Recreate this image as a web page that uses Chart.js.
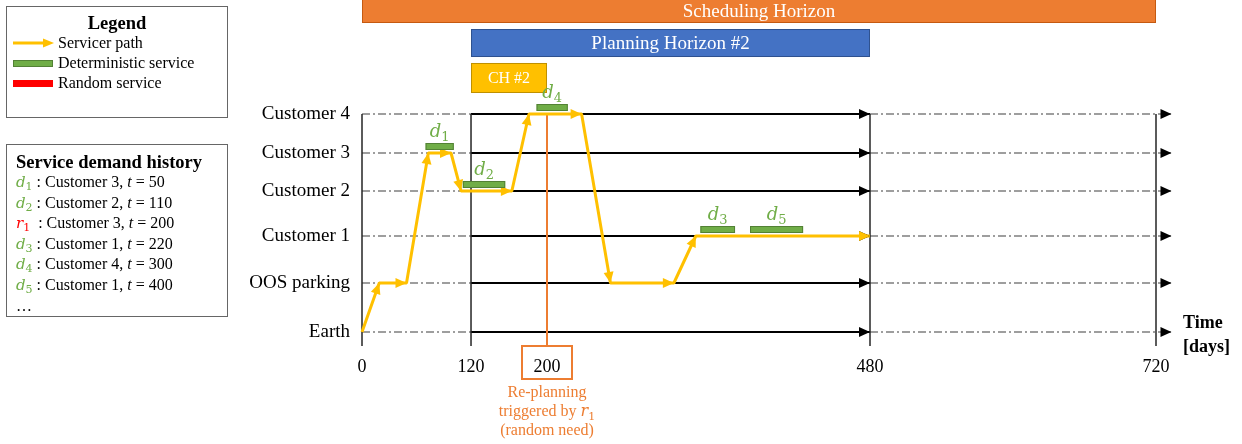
<!DOCTYPE html>
<html>
<head>
<meta charset="utf-8">
<script src="https://cdn.jsdelivr.net/npm/chart.js@4/dist/chart.umd.min.js"></script>
<style>
    body { margin: 0; background: #fff; font-family: "Liberation Serif", serif; color: #000; }
    #wrap { position: relative; width: 1242px; height: 444px; overflow: hidden; }
    canvas { position: absolute; left: 0; top: 0; }
    .box { position: absolute; border: 1.5px solid #666; box-sizing: border-box; }
    .t { position: absolute; font-size: 16px; line-height: 20px; white-space: nowrap; }
    .sw { position: absolute; width: 38px; height: 5px; }
    .m { font-family: "DejaVu Serif", serif; font-style: italic; font-size: 15px; }
    .m sub { font-style: normal; font-size: 11px; vertical-align: -3px; line-height: 0; }
    .g { color: #70AD47; }
    .r { color: #FF0000; }
</style>
</head>
<body>
<div id="wrap">
    <canvas id="chart" width="1242" height="444"></canvas>

    <!-- legend box -->
    <div class="box" style="left:6px;top:6px;width:222px;height:112px"></div>
    <div class="t" style="left:6px;top:12px;width:222px;text-align:center;font-weight:bold;font-size:18.5px;line-height:22px">Legend</div>
    <svg style="position:absolute;left:13px;top:38px" width="42" height="10">
        <line x1="0" y1="5" x2="32" y2="5" stroke="#FFC000" stroke-width="3"/>
        <polygon points="30,0.5 41,5 30,9.5" fill="#FFC000"/>
    </svg>
    <div class="t" style="left:58px;top:33px">Servicer path</div>
    <div class="sw" style="left:13px;top:60px;background:#70AD47;border:1px solid #538135"></div>
    <div class="t" style="left:58px;top:53px">Deterministic service</div>
    <div class="sw" style="left:13px;top:80px;background:#FF0000;border:1px solid #FF0000"></div>
    <div class="t" style="left:58px;top:73px">Random service</div>

    <!-- service demand history box -->
    <div class="box" style="left:6px;top:144px;width:222px;height:173px"></div>
    <div class="t" style="left:16px;top:151px;font-weight:bold;font-size:18.5px;line-height:22px">Service demand history</div>
    <div class="t" style="left:16px;top:172px;line-height:19.6px">
        <span class="m g">d<sub>1</sub></span> : Customer 3, <i>t</i> = 50<br>
        <span class="m g">d<sub>2</sub></span> : Customer 2, <i>t</i> = 110<br>
        <span class="m r">r<sub>1</sub></span> &nbsp;: Customer 3, <i>t</i> = 200<br>
        <span class="m g">d<sub>3</sub></span> : Customer 1, <i>t</i> = 220<br>
        <span class="m g">d<sub>4</sub></span> : Customer 4, <i>t</i> = 300<br>
        <span class="m g">d<sub>5</sub></span> : Customer 1, <i>t</i> = 400<br>
        …
    </div>

    <div class="t" style="left:1183px;top:310px;font-weight:bold;font-size:18px;line-height:24px">Time<br>[days]</div>
</div>

<script>
// --- DATA ---
const levels = ['Earth', 'OOS parking', 'Customer 1', 'Customer 2', 'Customer 3', 'Customer 4'];
const timeTicks = [0, 120, 200, 480, 720];
const boundaryDays = [0, 120, 480, 720];

// servicer path: day and level index of every vertex
const pathDays   = [0, 19, 49, 73, 98, 109, 163, 181, 230, 255, 310, 329, 480];
const pathLevels = [0, 1, 1, 4, 4, 3, 3, 5, 5, 1, 1, 2, 2];

// deterministic services
const serviceIds    = [1, 2, 3, 4, 5];
const serviceLevels = [4, 3, 2, 5, 2];
const serviceStart  = [70, 111, 333, 189, 376];
const serviceEnd    = [101, 156, 363, 218, 422];

// horizons shown as bars on top
const horizonNames = ['Scheduling Horizon', 'Planning Horizon #2', 'CH #2'];
const horizonStart = [0, 120, 120];
const horizonEnd   = [720, 480, 200];

const replanDay = 200;
const replanText = ['Re-planning', 'triggered by ', '(random need)'];

// --- PIECEWISE SCALE (schematic axis spacing) ---
const yBottom = -0.3;
const scaleBreaks = {
    x: [[0, 0], [120, 0.1373], [200, 0.2330], [480, 0.6398], [720, 1]],
    y: [[yBottom, 0], [0, 0.0405], [1, 0.1821], [2, 0.3179], [3, 0.4480], [4, 0.5578],
        [5, 0.6705], [6, 0.7746], [7, 0.8757], [8, 0.974], [8.4, 1]]
};

const LinearBase = Chart.LinearScale || Chart.registry.getScale('linear');

class PiecewiseScale extends LinearBase {
    getPixelForValue(value) {
        const br = scaleBreaks[this.id];
        let i = 1;
        while (i < br.length - 1 && value > br[i][0]) i++;
        const [v0, f0] = br[i - 1], [v1, f1] = br[i];
        return this.getPixelForDecimal(f0 + (value - v0) * (f1 - f0) / (v1 - v0));
    }
    getValueForPixel(pixel) {
        const br = scaleBreaks[this.id];
        const d = this.getDecimalForPixel(pixel);
        let i = 1;
        while (i < br.length - 1 && d > br[i][1]) i++;
        const [v0, f0] = br[i - 1], [v1, f1] = br[i];
        return v0 + (d - f0) * (v1 - v0) / (f1 - f0);
    }
}
PiecewiseScale.id = 'piecewise';
PiecewiseScale.defaults = LinearBase.defaults;
Chart.register(PiecewiseScale);

// --- DATASETS ---
const line = (pts, extra) => Object.assign({
    data: pts, showLine: true, clip: false, pointRadius: 0, tension: 0, fill: false
}, extra);

const datasets = [];
datasets.push(line(pathDays.map((d, i) => ({ x: d, y: pathLevels[i] })), {
    borderColor: '#FFC000', borderWidth: 3, borderJoinStyle: 'bevel',
    arrows: 'each', arrowColor: '#FFC000', order: 0
}));
datasets.push(line([{ x: replanDay, y: levels.length - 1 }, { x: replanDay, y: yBottom }], {
    borderColor: '#ED7D31', borderWidth: 2, order: 1
}));
boundaryDays.forEach(t => datasets.push(line([{ x: t, y: levels.length - 1 }, { x: t, y: yBottom }], {
    borderColor: '#262626', borderWidth: 1.5, order: 2
})));
levels.forEach((_, i) => {
    datasets.push(line([{ x: 0, y: i }, { x: 120, y: i }], {
        borderColor: '#7F7F7F', borderWidth: 1.5, borderDash: [8, 3, 2, 3], order: 3
    }));
    datasets.push(line([{ x: 120, y: i }, { x: 480, y: i }], {
        borderColor: '#000', borderWidth: 2, arrows: 'end', arrowColor: '#000', order: 3
    }));
    datasets.push(line([{ x: 480, y: i }, { x: 733, y: i }], {
        borderColor: '#7F7F7F', borderWidth: 1.5, borderDash: [8, 3, 2, 3],
        arrows: 'end', arrowColor: '#000', order: 3
    }));
});

// --- DRAWING HELPERS ---
function arrowHead(ctx, x0, y0, x1, y1, color) {
    const a = Math.atan2(y1 - y0, x1 - x0), len = 11, half = 5;
    const c = Math.cos(a), s = Math.sin(a);
    ctx.save();
    ctx.fillStyle = color;
    ctx.beginPath();
    ctx.moveTo(x1, y1);
    ctx.lineTo(x1 - len * c + half * s, y1 - len * s - half * c);
    ctx.lineTo(x1 - len * c - half * s, y1 - len * s + half * c);
    ctx.closePath();
    ctx.fill();
    ctx.restore();
}

function subLabel(ctx, letter, idx, cx, base, color, size) {
    const sub = Math.round(size * 0.7);
    ctx.save();
    ctx.fillStyle = color;
    ctx.textBaseline = 'alphabetic';
    ctx.textAlign = 'left';
    ctx.font = `italic ${size}px "DejaVu Serif"`;
    const w1 = ctx.measureText(letter).width;
    ctx.font = `${sub}px "DejaVu Serif"`;
    const w2 = ctx.measureText(String(idx)).width;
    const x = cx - (w1 + w2) / 2;
    ctx.font = `italic ${size}px "DejaVu Serif"`;
    ctx.fillText(letter, x, base);
    ctx.font = `${sub}px "DejaVu Serif"`;
    ctx.fillText(String(idx), x + w1, base + 4);
    ctx.restore();
}

const diagramPlugin = {
    id: 'diagram',
    beforeDatasetsDraw(chart) {
        const { ctx, scales: { x, y } } = chart;
        const fills = ['#ED7D31', '#4472C4', '#FFC000'];
        const edges = ['#C55A11', '#2F528F', '#BF9000'];
        horizonNames.forEach((name, i) => {
            const row = levels.length + horizonNames.length - 1 - i;
            const x0 = x.getPixelForValue(horizonStart[i]), x1 = x.getPixelForValue(horizonEnd[i]);
            const yc = y.getPixelForValue(row), h = i === 2 ? 30 : 28;
            const top = yc - h / 2, bottom = yc + h / 2;
            ctx.save();
            ctx.fillStyle = fills[i];
            ctx.fillRect(x0, top, x1 - x0, h);
            ctx.strokeStyle = edges[i];
            ctx.lineWidth = 1;
            ctx.strokeRect(x0 + 0.5, top + 0.5, x1 - x0 - 1, h - 1);
            ctx.fillStyle = '#fff';
            ctx.font = (i === 2 ? 16 : 19) + 'px "Liberation Serif"';
            ctx.textAlign = 'center';
            ctx.textBaseline = 'middle';
            ctx.fillText(name, (x0 + x1) / 2, (Math.max(top, 0) + bottom) / 2 + 1);
            ctx.restore();
        });
    },
    afterDatasetsDraw(chart) {
        const { ctx, scales: { x, y }, chartArea } = chart;
        // arrow heads, lowest layer first
        const metas = chart.getSortedVisibleDatasetMetas();
        for (let k = metas.length - 1; k >= 0; k--) {
            const ds = chart.data.datasets[metas[k].index];
            if (!ds.arrows) continue;
            const pts = metas[k].data;
            const from = ds.arrows === 'each' ? 1 : pts.length - 1;
            for (let i = from; i < pts.length; i++) {
                arrowHead(ctx, pts[i - 1].x, pts[i - 1].y, pts[i].x, pts[i].y, ds.arrowColor);
            }
        }
        // deterministic service bars + labels
        serviceIds.forEach((id, i) => {
            const x0 = x.getPixelForValue(serviceStart[i]), x1 = x.getPixelForValue(serviceEnd[i]);
            const top = y.getPixelForValue(serviceLevels[i]) - 10;
            ctx.save();
            ctx.fillStyle = '#70AD47';
            ctx.fillRect(x0, top, x1 - x0, 7);
            ctx.strokeStyle = '#538135';
            ctx.lineWidth = 1;
            ctx.strokeRect(x0 + 0.5, top + 0.5, x1 - x0 - 1, 6);
            ctx.restore();
            subLabel(ctx, 'd', id, (x0 + x1) / 2, top - 6, '#70AD47', 18);
        });
        // re-planning box and note
        const xr = x.getPixelForValue(replanDay);
        ctx.save();
        ctx.strokeStyle = '#ED7D31';
        ctx.lineWidth = 2;
        ctx.strokeRect(xr - 25, chartArea.bottom, 50, 33);
        ctx.fillStyle = '#ED7D31';
        ctx.font = '16px "Liberation Serif"';
        ctx.textAlign = 'center';
        ctx.textBaseline = 'alphabetic';
        ctx.fillText(replanText[0], xr, 397);
        ctx.fillText(replanText[2], xr, 435);
        const w0 = ctx.measureText(replanText[1]).width;
        ctx.font = 'italic 16px "DejaVu Serif"';
        const wr = ctx.measureText('r').width;
        const sx = xr - (w0 + wr + 7) / 2;
        ctx.textAlign = 'left';
        ctx.font = '16px "Liberation Serif"';
        ctx.fillText(replanText[1], sx, 416);
        ctx.font = 'italic 16px "DejaVu Serif"';
        ctx.fillText('r', sx + w0, 416);
        ctx.font = '11px "DejaVu Serif"';
        ctx.fillText('1', sx + w0 + wr, 420);
        ctx.restore();
    }
};

// --- CHART ---
function zeroPad(s) { s.paddingTop = 0; s.paddingBottom = 0; s.paddingLeft = 0; s.paddingRight = 0; }

new Chart(document.getElementById('chart').getContext('2d'), {
    type: 'scatter',
    data: { datasets },
    options: {
        responsive: false,
        animation: false,
        devicePixelRatio: 1,
        layout: { padding: { left: 0, right: 86, top: 0, bottom: 0 } },
        plugins: { legend: { display: false }, tooltip: { enabled: false } },
        scales: {
            x: {
                type: 'piecewise', min: 0, max: 720,
                grid: { display: false, drawTicks: false }, border: { display: false },
                ticks: {
                    autoSkip: false, maxRotation: 0, padding: 10, color: '#000',
                    font: { family: 'Liberation Serif', size: 18 },
                    callback: v => String(v)
                },
                afterBuildTicks: s => { s.ticks = timeTicks.map(v => ({ value: v })); },
                afterFit: s => { s.height = 98; zeroPad(s); }
            },
            y: {
                type: 'piecewise', min: yBottom, max: 8.4,
                grid: { display: false, drawTicks: false }, border: { display: false },
                ticks: {
                    autoSkip: false, padding: 12, color: '#000',
                    font: { family: 'Liberation Serif', size: 19 },
                    callback: v => levels[v]
                },
                afterBuildTicks: s => { s.ticks = levels.map((_, i) => ({ value: i })); },
                afterFit: s => { s.width = 362; zeroPad(s); }
            }
        }
    },
    plugins: [diagramPlugin]
});
</script>
</body>
</html>
